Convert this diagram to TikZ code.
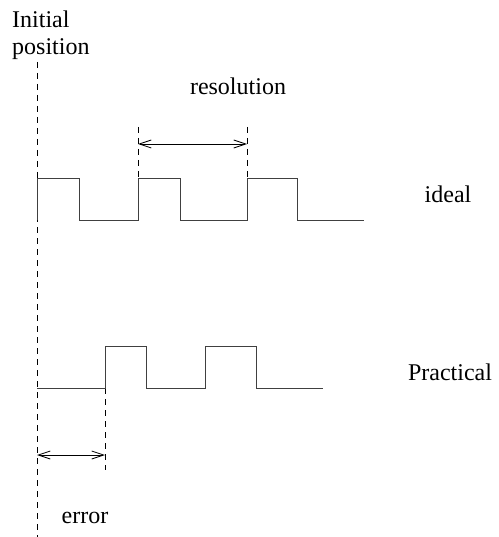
\documentclass[tikz,border=0pt]{standalone}
\usepackage{fontspec}
\setmainfont{Liberation Serif}
\usetikzlibrary{arrows.meta}
\begin{document}
\begin{tikzpicture}[x=1pt,y=-1pt,
  wave/.style={line width=0.9pt, draw=black!75},
  guide/.style={line width=0.8pt, draw=black, dash pattern=on 6pt off 5pt},
  dim/.style={line width=0.8pt, draw=black, {Straight Barb[length=12pt,width=8pt]}-{Straight Barb[length=12pt,width=8pt]}},
  lbl/.style={font=\fontsize{24}{27}\selectfont, inner sep=0pt}]
\useasboundingbox (0,0) rectangle (498,537);
% labels
\node[lbl, anchor=base west] (init1) at (12,28) {Initial};
\node[lbl, anchor=base west] (init2) at (12,55) {position};
\node[lbl, anchor=base] (res) at (238,95) {resolution};
\node[lbl, anchor=base] (ideal) at (448,203) {ideal};
\node[lbl, anchor=base] (prac) at (450,380) {Practical};
\node[lbl, anchor=base] (err) at (85,523) {error};
% reference coordinates
\coordinate (o1) at (37,62);
\coordinate (o2) at (37,537);
\coordinate (r1t) at (138,127);
\coordinate (r1b) at (138,178);
\coordinate (r2t) at (247,127);
\coordinate (r2b) at (247,178);
\coordinate (ra) at (138,144);
\coordinate (rb) at (247,144);
\coordinate (e1t) at (105,388);
\coordinate (e1b) at (105,470);
\coordinate (ea) at (37,455);
\coordinate (eb) at (105,455);
% dashed guides
\draw[guide] (o1) -- (o2);
\draw[guide] (r1t) -- (r1b);
\draw[guide] (r2t) -- (r2b);
\draw[guide] (e1t) -- (e1b);
% dimension arrows
\draw[dim] (ra) -- (rb);
\draw[dim] (ea) -- (eb);
% ideal waveform
\draw[wave] (37,220) -- (37,178) -- (79,178) -- (79,220) -- (138,220) -- (138,178)
  -- (180,178) -- (180,220) -- (247,220) -- (247,178) -- (297,178) -- (297,220) -- (364,220);
% practical waveform
\draw[wave] (37,388) -- (105,388) -- (105,346) -- (146,346) -- (146,388) -- (205,388)
  -- (205,346) -- (256,346) -- (256,388) -- (323,388);
\end{tikzpicture}
\end{document}
